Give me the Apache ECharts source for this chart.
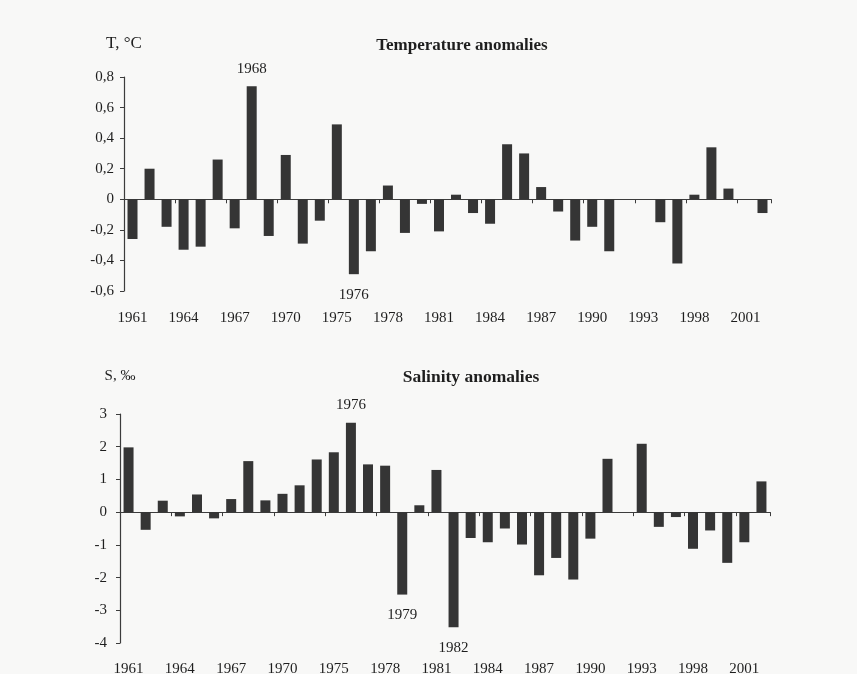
<!DOCTYPE html>
<html>
<head>
<meta charset="utf-8">
<script src="https://cdn.jsdelivr.net/npm/echarts@6/dist/echarts.min.js"></script>
<style>
html,body{margin:0;padding:0;background:#f8f8f7;}
#c{width:857px;height:674px;}
</style>
</head>
<body>
<div id="c"></div>
<script>
// Years (categories); two years between 1970 and 1975 and two between 1993 and 1998
var years = ['1961','1962','1963','1964','1965','1966','1967','1968','1969','1970',
  '1973','1974','1975','1976','1977','1978','1979','1980','1981','1982','1983','1984',
  '1985','1986','1987','1988','1989','1990','1991','1992','1993','1995','1996',
  '1998','1999','2000','2001','2002'];
var tempAnom = [-0.26, 0.20, -0.18, -0.33, -0.31, 0.26, -0.19, 0.74, -0.24, 0.29,
  -0.29, -0.14, 0.49, -0.49, -0.34, 0.09, -0.22, -0.03, -0.21, 0.03, -0.09, -0.16,
  0.36, 0.30, 0.08, -0.08, -0.27, -0.18, -0.34, 0, 0, -0.15, -0.42,
  0.03, 0.34, 0.07, 0, -0.09];
var salAnom = [1.98, -0.54, 0.35, -0.13, 0.54, -0.19, 0.40, 1.56, 0.36, 0.56,
  0.82, 1.61, 1.83, 2.73, 1.46, 1.42, -2.52, 0.21, 1.29, -3.52, -0.79, -0.92,
  -0.50, -0.99, -1.93, -1.40, -2.06, -0.81, 1.63, 0, 2.09, -0.45, -0.15,
  -1.12, -0.56, -1.55, -0.92, 0.94];
var tempMarked = ['1968', '1976'];
var salMarked = ['1976', '1979', '1982'];
var tempTicks = {min: -0.6, max: 0.8, interval: 0.2};
var salTicks = {min: -4, max: 3, interval: 1};

var FONT = '"Liberation Serif", "DejaVu Serif", serif';
var TXT = '#1e1e1e';
var AX = '#3c3c3c';
var BAR = '#353535';

function withMarks(vals, marked) {
  return vals.map(function (v, i) {
    var y = years[i];
    if (marked.indexOf(y) >= 0) {
      return {value: v, label: {show: true, formatter: y,
        position: v >= 0 ? 'top' : 'bottom', distance: v >= 0 ? 10 : 13,
        fontFamily: FONT, fontSize: 15, color: TXT}};
    }
    return v;
  });
}
function fmt(v) {
  var r = Math.round(v * 10) / 10;
  return String(r).replace('.', ',');
}

var grids = [
  {left: 124, width: 647, top: 77, height: 214, outerBoundsMode: 'none', containLabel: false},
  {left: 120, width: 650, top: 414, height: 229, outerBoundsMode: 'none', containLabel: false}
];

var xMargins = [20, 19];
var xAxes = [], yAxes = [];
[0, 1].forEach(function (g) {
  xAxes.push({type: 'category', gridIndex: g, data: years, position: 'bottom',
    axisLine: {show: false, onZero: false}, axisTick: {show: false},
    axisLabel: {interval: 2, fontFamily: FONT, fontSize: 15, color: TXT, margin: xMargins[g]}});
  xAxes.push({type: 'category', gridIndex: g, data: years, position: 'bottom',
    axisLine: {show: true, onZero: true, onZeroAxisIndex: g, lineStyle: {color: AX, width: 1.2}},
    axisTick: {show: true, inside: false, length: 4, lineStyle: {color: AX}},
    axisLabel: {show: false}});
});
var tk = [tempTicks, salTicks];
var names = ['T, °C', 'S, ‰'];
var nameSizes = [17, 15];
var gaps = [25, 30];
var margins = [10, 13];
[0, 1].forEach(function (g) {
  yAxes.push({type: 'value', gridIndex: g, min: tk[g].min, max: tk[g].max, interval: tk[g].interval,
    name: names[g], nameLocation: 'end', nameGap: gaps[g],
    nameTextStyle: {fontFamily: FONT, fontSize: nameSizes[g], color: TXT, align: 'center'},
    axisLine: {show: true, lineStyle: {color: AX, width: 1.2}},
    axisTick: {show: true, inside: false, length: 4, lineStyle: {color: AX}},
    splitLine: {show: false},
    axisLabel: {formatter: fmt, fontFamily: FONT, fontSize: 15, color: TXT, margin: margins[g]}});
});

var chart = echarts.init(document.getElementById('c'));
chart.setOption({
  backgroundColor: '#f8f8f7',
  animation: false,
  title: [
    {text: 'Temperature anomalies', left: 457, top: 32, textAlign: 'center',
      textStyle: {fontFamily: FONT, fontSize: 17, fontWeight: 'bold', color: TXT}},
    {text: 'Salinity anomalies', left: 466, top: 363, textAlign: 'center',
      textStyle: {fontFamily: FONT, fontSize: 17.5, fontWeight: 'bold', color: TXT}}
  ],
  grid: grids,
  xAxis: xAxes,
  yAxis: yAxes,
  series: [
    {type: 'bar', xAxisIndex: 0, yAxisIndex: 0, data: withMarks(tempAnom, tempMarked),
      barWidth: 10, itemStyle: {color: BAR}},
    {type: 'bar', xAxisIndex: 2, yAxisIndex: 1, data: withMarks(salAnom, salMarked),
      barWidth: 10, itemStyle: {color: BAR}}
  ]
});
</script>
</body>
</html>
